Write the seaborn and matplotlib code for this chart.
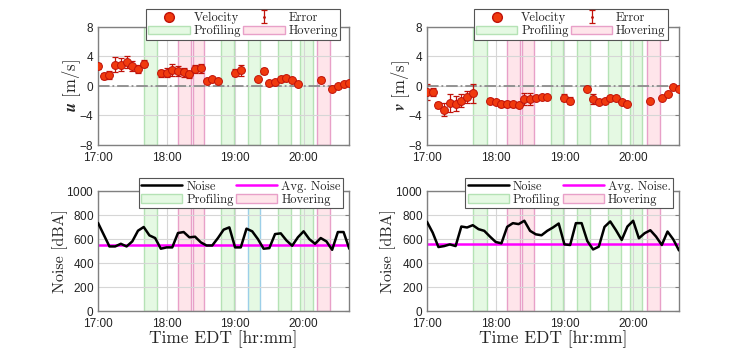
import matplotlib
matplotlib.use('Agg')
import matplotlib.pyplot as plt
import matplotlib.ticker as mticker
from matplotlib.lines import Line2D
from matplotlib.patches import Patch
import seaborn as sns
import pandas as pd

# velocity sample times (EDT) and values
vel_time = ["17:00", "17:05", "17:10", "17:15", "17:20", "17:25", "17:30", "17:35", "17:40",
            "17:55", "18:00", "18:05", "18:10", "18:15", "18:20", "18:25", "18:30", "18:35",
            "18:40", "18:45", "19:00", "19:05", "19:20", "19:25", "19:30", "19:35", "19:40",
            "19:45", "19:50", "19:55", "20:15", "20:25", "20:30", "20:35", "20:40"]
u_vel = [2.7, 1.35, 1.5, 2.9, 2.9, 3.2, 2.7, 2.3, 3.0,
         1.7, 1.8, 2.15, 2.0, 1.85, 1.55, 2.3, 2.4, 0.7,
         0.9, 0.7, 1.8, 2.1, 0.9, 2.0, 0.4, 0.6, 0.9,
         1.1, 0.8, 0.2, 0.85, -0.35, -0.05, 0.2, 0.45]
u_err = [0.4, 0.4, 0.5, 1.0, 0.9, 0.8, 0.7, 0.6, 0.5,
         0.5, 0.6, 0.8, 0.7, 0.6, 0.5, 0.6, 0.6, 0.2,
         0.2, 0.2, 0.5, 0.7, 0.2, 0.4, 0.2, 0.2, 0.2,
         0.3, 0.2, 0.2, 0.3, 0.2, 0.2, 0.2, 0.2]
v_vel = [-0.8, -0.8, -2.55, -3.2, -2.3, -2.4, -2.0, -1.5, -1.0,
         -2.0, -2.2, -2.4, -2.5, -2.5, -2.55, -1.8, -1.8, -1.65,
         -1.55, -1.45, -1.6, -2.0, -0.4, -1.75, -2.15, -2.0, -1.7,
         -1.6, -2.15, -2.4, -2.0, -1.6, -1.1, -0.2, -0.35]
v_err = [1.1, 0.5, 0.4, 0.9, 1.2, 1.0, 0.9, 0.8, 1.3,
         0.3, 0.3, 0.4, 0.4, 0.3, 0.3, 0.8, 0.8, 0.3,
         0.2, 0.2, 0.5, 0.5, 0.2, 0.7, 0.2, 0.2, 0.2,
         0.2, 0.2, 0.2, 0.2, 0.2, 0.2, 0.2, 0.2]

# noise samples every 5 minutes, 17:00 - 20:40
noise_time = ["%d:%02d" % (17 + m // 60, m % 60) for m in range(0, 225, 5)]
noise_left = [735, 637, 539, 539, 561, 539, 581, 670, 701, 631, 609, 520, 531, 531, 651,
              659, 615, 620, 573, 547, 547, 609, 679, 698, 531, 531, 687, 665, 600, 520,
              525, 642, 648, 589, 545, 615, 665, 600, 561, 609, 581, 511, 659, 659, 520]
noise_right = [744, 654, 534, 542, 556, 542, 705, 697, 716, 683, 669, 621, 576, 565, 702,
               733, 725, 753, 669, 640, 632, 669, 697, 730, 556, 551, 733, 733, 584, 514,
               537, 702, 747, 674, 593, 705, 753, 607, 649, 674, 621, 551, 663, 598, 506]
avg_left = 553
avg_right = 563

# flight segments
prof_start = ["17:40", "18:48", "19:11", "19:38", "19:57"]
prof_end = ["17:52", "18:59", "19:22", "19:49", "20:08"]
hover_start = ["18:10", "18:23", "20:12"]
hover_end = ["18:21", "18:33", "20:23"]


def mins(t):
    h, m = t.split(":")
    return (int(h) - 17) * 60 + int(m)


sns.set_style("white")
plt.rcParams['font.family'] = ['cmr10', 'DejaVu Serif']
plt.rcParams['mathtext.fontset'] = 'cm'
plt.rcParams['axes.formatter.use_mathtext'] = True

PROF_FC = (0.55, 0.9, 0.5, 0.22)
PROF_EC = '#b5e2b5'
HOV_FC = (0.98, 0.5, 0.6, 0.2)
HOV_EC = '#e8a0c8'
RED = '#f03a0e'
DARK = '#c0120a'
TICKFONT = 'Liberation Sans'

fig = plt.figure(figsize=(7.5, 3.5), dpi=100)
ax_u = fig.add_axes([0.1307, 0.586, 0.335, 0.337])
ax_v = fig.add_axes([0.5693, 0.586, 0.336, 0.337])
ax_nl = fig.add_axes([0.1307, 0.111, 0.335, 0.343])
ax_nr = fig.add_axes([0.5693, 0.111, 0.336, 0.343])


def shade(ax, blue=False):
    for i, (a, b) in enumerate(zip(prof_start, prof_end)):
        ec = '#9ccfe8' if (blue and i == 2) else PROF_EC
        ax.axvspan(mins(a), mins(b), facecolor=PROF_FC, edgecolor=ec, lw=1, zorder=0)
    for a, b in zip(hover_start, hover_end):
        ax.axvspan(mins(a), mins(b), facecolor=HOV_FC, edgecolor=HOV_EC, lw=1, zorder=0)


def style(ax, ylim, yticks):
    ax.set_xlim(0, 220)
    ax.set_ylim(*ylim)
    ax.set_yticks(yticks)
    ax.set_xticks([0, 60, 120, 180])
    ax.xaxis.set_major_formatter(mticker.FuncFormatter(lambda x, p: "%d:00" % (17 + int(x) // 60)))
    ax.grid(True, color='#d6d6d6', lw=0.8)
    ax.set_axisbelow(True)
    for s in ax.spines.values():
        s.set_color('#808080')
        s.set_linewidth(1.0)
    ax.tick_params(direction='in', length=3, width=0.8, color='#808080',
                   labelsize=8.5, labelcolor='#222222', labelfontfamily=TICKFONT,
                   top=True, right=True)
    ax.tick_params(axis='x', pad=5)
    ax.tick_params(axis='y', pad=3)


def add_legend(ax, handles, labels, anchor):
    leg = ax.legend(handles, labels, ncol=2, loc='upper right',
                    bbox_to_anchor=anchor, fontsize=9, frameon=True,
                    fancybox=False, edgecolor='#555555', framealpha=1,
                    handlelength=3.3, handletextpad=0.3, columnspacing=0.2,
                    borderpad=0.2, labelspacing=0.1, borderaxespad=0)
    leg.set_zorder(10)
    leg.get_frame().set_linewidth(0.8)


def vel_panel(ax, vals, errs, label, anchor_x):
    shade(ax)
    ax.axhline(0, color='#8c8c8c', ls='-.', lw=1.3, zorder=1)
    df = pd.DataFrame({'t': [mins(t) for t in vel_time], 'val': vals, 'err': errs})
    eb = ax.errorbar(df['t'], df['val'], yerr=df['err'], fmt='.', color=DARK, ms=2,
                     elinewidth=0.9, capsize=2.5, capthick=0.9, zorder=2)
    sns.scatterplot(data=df, x='t', y='val', ax=ax, color=RED, edgecolor=DARK,
                    linewidth=0.7, s=32, zorder=3, legend=False)
    style(ax, (-8, 8), [-8, -4, 0, 4, 8])
    ax.set_xlabel("")
    ax.set_ylabel(label, fontsize=12, labelpad=-3)
    handles = [Line2D([], [], marker='o', ls='none', color=RED, mec=DARK, ms=7),
               Patch(facecolor=PROF_FC, edgecolor=PROF_EC),
               eb,
               Patch(facecolor=HOV_FC, edgecolor=HOV_EC)]
    labels = ["Velocity", "Profiling", "Error", "Hovering"]
    add_legend(ax, handles, labels, (anchor_x, 1.15))


def noise_panel(ax, vals, avg, avg_label, anchor_x, blue):
    shade(ax, blue)
    df = pd.DataFrame({'t': [mins(t) for t in noise_time], 'noise': vals})
    sns.lineplot(data=df, x='t', y='noise', ax=ax, color='black', lw=1.8, zorder=3)
    ax.axhline(avg, color='#ff00ff', lw=1.8, zorder=2)
    style(ax, (0, 1000), [0, 200, 400, 600, 800, 1000])
    ax.set_xlabel("Time EDT [hr:mm]", fontsize=12.5, labelpad=0)
    ax.set_ylabel("Noise [dBA]", fontsize=11.5, labelpad=-1)
    handles = [Line2D([], [], color='black', lw=1.8),
               Patch(facecolor=PROF_FC, edgecolor=PROF_EC),
               Line2D([], [], color='#ff00ff', lw=1.8),
               Patch(facecolor=HOV_FC, edgecolor=HOV_EC)]
    labels = ["Noise", "Profiling", avg_label, "Hovering"]
    add_legend(ax, handles, labels, (anchor_x, 1.11))


vel_panel(ax_u, u_vel, u_err, r"$\boldsymbol{u}$ [m/s]", 0.965)
vel_panel(ax_v, v_vel, v_err, r"$\boldsymbol{v}$ [m/s]", 0.957)
noise_panel(ax_nl, noise_left, avg_left, "Avg. Noise", 0.976, True)
noise_panel(ax_nr, noise_right, avg_right, "Avg. Noise.", 0.977, False)

fig.savefig("out.png", dpi=100)
